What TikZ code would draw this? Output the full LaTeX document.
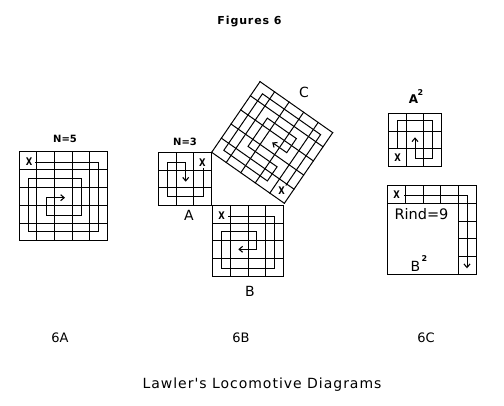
\documentclass[tikz,border=0pt]{standalone}
\usepackage{fontspec}
\setmainfont{DejaVu Sans}
\newfontfamily\footfont[LetterSpace=7]{DejaVu Sans}
\usetikzlibrary{arrows.meta}
\newcommand\squaregrid[1]{\foreach \i in {0,...,#1}{\draw[gridline] (\i,0) -- (\i,#1); \draw[gridline] (0,\i) -- (#1,\i);}}
\tikzset{
  gridline/.style={line width=1pt,black,line cap=rect},
  route/.style={line width=1pt,black,-{Straight Barb[length=3.5pt,width=6pt,line width=1.1pt]}},
  xmark/.style={font=\fontsize{10.5}{11}\selectfont\bfseries,inner sep=0pt,text=black,xscale=0.8,transform shape},
  nlabel/.style={font=\fontsize{10}{12}\selectfont\bfseries,inner sep=0pt,text=black},
  letter/.style={font=\fontsize{14}{15}\selectfont,inner sep=0pt,text=black},
  caption6/.style={font=\fontsize{13}{14}\selectfont,inner sep=0pt,text=black},
  supnum/.style={font=\fontsize{8}{8}\selectfont\bfseries,inner sep=0pt,text=black}
}
\begin{document}
\begin{tikzpicture}[x=1pt,y=-1pt]
\useasboundingbox (0,0) rectangle (504,406);
\node[font=\fontsize{11}{12}\selectfont\bfseries\addfontfeatures{LetterSpace=8},inner sep=0pt] (title) at (249.5,22) {Figures 6};
% 6A
\begin{scope}[shift={(19,152)},x=17.7pt,y=-17.8pt]
\squaregrid{5}
\end{scope}
\draw[route] (35,162.3) -- (98.7,162.3) -- (98.7,232) -- (28,232) -- (28,179) -- (81.7,179) -- (81.7,215.3) -- (46.3,215.3) -- (46.3,197.7) -- (65,197.7);
\node[xmark] (xa) at (29,161.7) {X};
\node[nlabel] (na) at (65,139) {N=5};
% A
\begin{scope}[shift={(158.3,152.3)},x=17.8pt,y=-17.8pt]
\squaregrid{3}
\end{scope}
\draw[route] (203.3,168) -- (203.3,196.7) -- (167.7,196.7) -- (167.7,162.3) -- (185.7,162.3) -- (185.7,181.7);
\node[xmark] (xb) at (202.3,162.3) {X};
\node[nlabel] (nb) at (185,142) {N=3};
\node[letter] (la) at (189,215) {A};
% B
\begin{scope}[shift={(212.7,205.7)},x=17.65pt,y=-17.65pt]
\squaregrid{4}
\end{scope}
\draw[route] (228.3,216.7) -- (274,216.7) -- (274,268.7) -- (221.7,268.7) -- (221.7,231.7) -- (256.7,231.7) -- (256.7,249.3) -- (238.3,249.3);
\node[xmark] (xc) at (221.7,215.7) {X};
\node[letter] (lb) at (250,291) {B};
% C
\begin{scope}[shift={(211.7,152.3)},x={(14.53pt,-10.2pt)},y={(9.67pt,14.13pt)}]
\squaregrid{5}
\draw[route] (4.5,0.9) -- (4.5,4.5) -- (0.5,4.5) -- (0.5,0.5) -- (3.5,0.5) -- (3.5,1.5) -- (1.5,1.5) -- (1.5,3.5) -- (3.5,3.5) -- (3.5,2.5) -- (2.5,2.5);
\end{scope}
\node[xmark] (xd) at (281.7,190.7) {X};
\node[letter] (lc) at (304,92) {C};
% A squared
\begin{scope}[shift={(388.3,113.3)},x=17.8pt,y=-17.8pt]
\squaregrid{3}
\end{scope}
\draw[route] (397.3,148.3) -- (397.3,120.7) -- (432.7,120.7) -- (432.7,158.7) -- (415,158.7) -- (415,137.3);
\node[xmark] (xe) at (397.7,157.7) {X};
\node[font=\fontsize{12}{13}\selectfont\bfseries,inner sep=0pt] (las) at (413.5,99.5) {A};
\node[supnum] (las2) at (420.5,92.5) {2};
% B squared
\draw[gridline] (387.3,186) rectangle (476,274.3);
\draw[gridline] (387.3,203.7) -- (476,203.7);
\draw[gridline] (458.3,186) -- (458.3,274.3);
\draw[gridline] (405.3,186) -- (405.3,203.7);
\draw[gridline] (423,186) -- (423,203.7);
\draw[gridline] (440.7,186) -- (440.7,203.7);
\draw[gridline] (458.3,221.3) -- (476,221.3);
\draw[gridline] (458.3,239) -- (476,239);
\draw[gridline] (458.3,256.7) -- (476,256.7);
\draw[route] (404,196) -- (467,196) -- (467,268.3);
\node[xmark] (xf) at (396.7,195) {X};
\node[font=\fontsize{14.5}{15}\selectfont,inner sep=0pt] (rind) at (421.5,214.5) {Rind=9};
\node[letter] (bsq) at (415.5,266) {B};
\node[supnum] (bsq2) at (424.5,259) {2};
% captions
\node[caption6] (c6a) at (60,338) {6A};
\node[caption6] (c6b) at (241,338) {6B};
\node[caption6] (c6c) at (426,338) {6C};
\node[font=\fontsize{14}{15}\selectfont\footfont,inner sep=0pt] (foot) at (262,385) {Lawler's Locomotive Diagrams};
\end{tikzpicture}
\end{document}
